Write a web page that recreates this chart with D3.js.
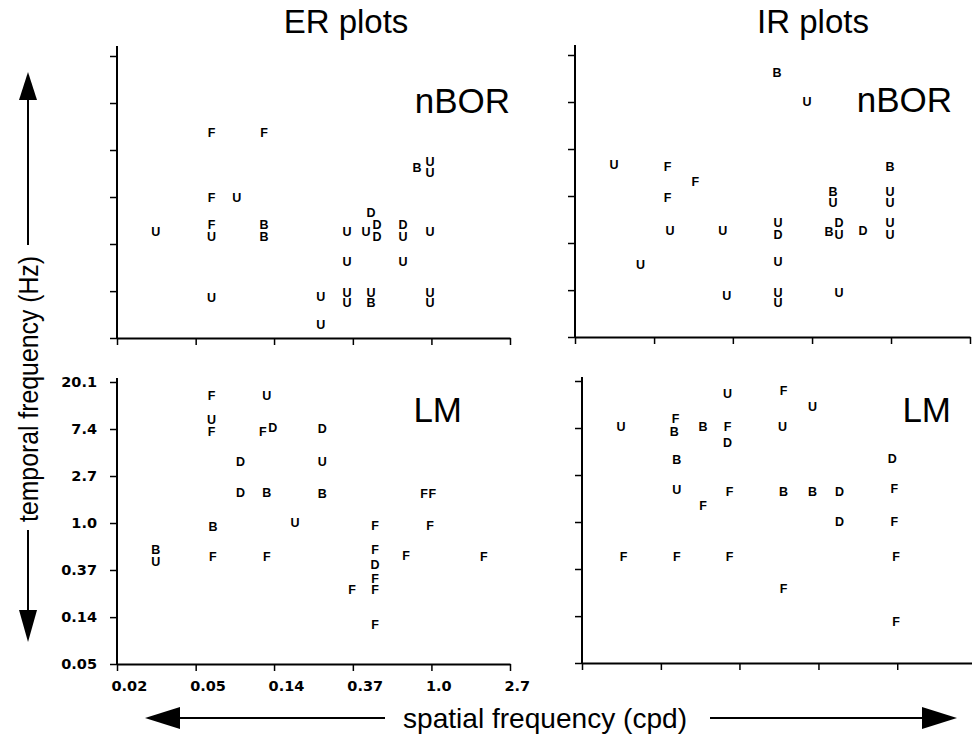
<!DOCTYPE html>
<html>
<head>
<meta charset="utf-8">
<script src="https://cdn.jsdelivr.net/npm/d3@7"></script>
<style>
  body { margin: 0; background: #fff; }
  svg { display: block; font-family: "Liberation Sans", Arial, sans-serif; }
  .axis path, .axis line { stroke: #000; }
  .axis .domain { stroke-width: 2; }
  .axis .tick line { stroke-width: 1.5; }
  .axis text { font-family: "DejaVu Sans", sans-serif; font-weight: bold; font-size: 14.5px; fill: #000; }
  .mark { font-weight: bold; font-size: 12.5px; }
</style>
</head>
<body>
<svg id="chart" width="972" height="746"></svg>
<script>
// tick values are e^k, labelled the way the figure rounds them
var sfTicks = [0.0183, 0.0498, 0.135, 0.368, 1.0, 2.718];
var sfTickLabels = ["0.02", "0.05", "0.14", "0.37", "1.0", "2.7"];
var tfTicks = [0.0498, 0.135, 0.368, 1.0, 2.718, 7.389, 20.09];
var tfTickLabels = ["0.05", "0.14", "0.37", "1.0", "2.7", "7.4", "20.1"];

// each cell: [cell type letter, spatial freq (cpd), temporal freq (Hz)]
var erNbor = [
  ["F",0.061,3.9], ["F",0.119,3.9], ["F",0.061,0.98], ["U",0.084,0.98],
  ["U",0.030,0.475], ["F",0.061,0.55], ["U",0.061,0.427], ["B",0.119,0.55], ["B",0.119,0.427],
  ["U",0.061,0.117], ["U",0.245,0.119], ["U",0.245,0.066],
  ["U",0.342,0.475], ["U",0.435,0.475], ["D",0.464,0.71], ["D",0.500,0.55], ["D",0.500,0.427],
  ["D",0.697,0.55], ["U",0.697,0.427], ["U",0.982,0.475],
  ["U",0.342,0.251], ["U",0.697,0.251],
  ["U",0.342,0.130], ["U",0.342,0.105], ["U",0.464,0.130], ["B",0.464,0.105],
  ["U",0.982,0.130], ["U",0.982,0.105],
  ["B",0.833,1.85], ["U",0.982,2.11], ["U",0.982,1.67]
];

var irNbor = [
  ["U",0.030,1.93], ["F",0.059,1.85], ["F",0.084,1.35], ["F",0.059,0.96],
  ["U",0.061,0.475], ["U",0.119,0.475], ["U",0.042,0.230], ["U",0.125,0.119],
  ["B",0.236,13.7], ["U",0.345,7.39],
  ["B",0.987,1.85], ["B",0.480,1.09], ["U",0.480,0.86], ["U",0.987,1.09], ["U",0.987,0.86],
  ["U",0.239,0.56], ["D",0.239,0.436], ["B",0.456,0.465], ["D",0.518,0.56], ["U",0.518,0.436],
  ["D",0.702,0.475], ["U",0.987,0.56], ["U",0.987,0.436],
  ["U",0.239,0.246], ["U",0.239,0.127], ["U",0.239,0.103], ["U",0.518,0.127]
];

var erLm = [
  ["F",0.061,14.9], ["U",0.123,14.9], ["U",0.061,8.95], ["F",0.061,6.93],
  ["F",0.117,6.93], ["D",0.133,7.55], ["D",0.088,3.66], ["D",0.088,1.89], ["B",0.123,1.89],
  ["B",0.062,0.92], ["B",0.030,0.563], ["U",0.030,0.436], ["F",0.062,0.486], ["F",0.123,0.486],
  ["D",0.249,7.4], ["U",0.249,3.66], ["B",0.249,1.85], ["U",0.176,1.0],
  ["F",0.488,0.94], ["F",0.488,0.563], ["D",0.488,0.409], ["F",0.488,0.304], ["F",0.488,0.240],
  ["F",0.364,0.240], ["F",0.488,0.114], ["F",0.724,0.496],
  ["F",0.910,1.85], ["F",1.01,1.85], ["F",0.982,0.94], ["F",1.95,0.486]
];

var irLm = [
  ["U",0.030,7.55], ["F",0.060,8.95], ["B",0.059,6.79], ["B",0.085,7.55],
  ["U",0.116,15.2], ["F",0.116,7.55], ["D",0.116,5.37], ["B",0.061,3.74], ["U",0.061,1.98],
  ["F",0.119,1.89], ["F",0.085,1.41], ["F",0.031,0.475], ["F",0.061,0.475], ["F",0.119,0.475],
  ["F",0.236,16.2], ["U",0.341,11.6], ["U",0.233,7.55], ["D",0.939,3.82],
  ["B",0.236,1.89], ["B",0.341,1.89], ["D",0.480,1.89], ["F",0.963,2.02],
  ["D",0.480,1.0], ["F",0.963,1.0], ["F",0.987,0.475], ["F",0.236,0.240], ["F",0.987,0.119]
];

var svg = d3.select("#chart");

function drawPanel(cfg, data) {
    var x = d3.scaleLog().domain([sfTicks[0], sfTicks[sfTicks.length-1]]).range([cfg.left, cfg.left + cfg.width]);
    var y = d3.scaleLog().domain([tfTicks[0], tfTicks[tfTicks.length-1]]).range([cfg.bottom, cfg.bottom - 282]);

    var xAxis = d3.axisBottom(x).tickValues(sfTicks).tickSizeInner(7).tickSizeOuter(0)
        .tickFormat(function(d, i) { return cfg.xLabels ? sfTickLabels[i] : ""; });
    var gx = svg.append("g").attr("class", "axis")
        .attr("transform", "translate(0," + cfg.bottom + ")")
        .call(xAxis);
    gx.selectAll("text").attr("text-anchor", "start").attr("dx", -6).attr("dy", "1.2em");

    var yAxis = d3.axisLeft(y).tickValues(tfTicks).tickSizeInner(7).tickSizeOuter(0)
        .tickFormat(function(d, i) { return cfg.yLabels ? tfTickLabels[i] : ""; });
    var gy = svg.append("g").attr("class", "axis")
        .attr("transform", "translate(" + cfg.left + ",0)")
        .call(yAxis);
    gy.selectAll("text").attr("dx", -10);
    // axis line runs a little past the top tick
    gy.select(".domain").attr("d", "M0," + cfg.bottom + "V" + cfg.top);

    svg.append("g").selectAll("text")
        .data(data)
        .enter().append("text")
        .attr("class", "mark")
        .attr("x", function(d) { return x(d[1]); })
        .attr("y", function(d) { return y(d[2]); })
        .attr("text-anchor", "middle")
        .attr("dominant-baseline", "central")
        .text(function(d) { return d[0]; });

    svg.append("text")
        .attr("x", cfg.tagX).attr("y", cfg.tagY)
        .attr("text-anchor", "end")
        .attr("font-size", 35)
        .text(cfg.tag);
}

drawPanel({left: 117, width: 393, bottom: 338, top: 46, tag: "nBOR", tagX: 510, tagY: 113}, erNbor);
drawPanel({left: 575, width: 395, bottom: 337, top: 45, tag: "nBOR", tagX: 952, tagY: 112}, irNbor);
drawPanel({left: 117, width: 393, bottom: 664, top: 378, tag: "LM", tagX: 462, tagY: 422, xLabels: true, yLabels: true}, erLm);
drawPanel({left: 582, width: 394, bottom: 663, top: 377, tag: "LM", tagX: 951, tagY: 422}, irLm);

// column titles
svg.append("text").attr("x", 346).attr("y", 33).attr("text-anchor", "middle")
    .attr("font-size", 33).text("ER plots");
svg.append("text").attr("x", 813).attr("y", 33).attr("text-anchor", "middle")
    .attr("font-size", 33).text("IR plots");

// axis titles with arrows (the figure's font is a condensed one)
svg.append("text")
    .attr("transform", "translate(29,389) rotate(-90)")
    .attr("text-anchor", "middle").attr("dominant-baseline", "central")
    .attr("font-size", 27)
    .attr("textLength", 266).attr("lengthAdjust", "spacingAndGlyphs")
    .text("temporal frequency (Hz)");
svg.append("text")
    .attr("x", 545).attr("y", 718)
    .attr("text-anchor", "middle").attr("dominant-baseline", "central")
    .attr("font-size", 28)
    .attr("textLength", 284).attr("lengthAdjust", "spacingAndGlyphs")
    .text("spatial frequency (cpd)");

var arrows = svg.append("g").attr("stroke", "#000").attr("stroke-width", 2);
arrows.append("line").attr("x1", 28).attr("y1", 245).attr("x2", 28).attr("y2", 95);
arrows.append("line").attr("x1", 28).attr("y1", 530).attr("x2", 28).attr("y2", 612);
arrows.append("line").attr("x1", 385).attr("y1", 718).attr("x2", 175).attr("y2", 718);
arrows.append("line").attr("x1", 710).attr("y1", 718).attr("x2", 925).attr("y2", 718);
var heads = svg.append("g").attr("fill", "#000");
heads.append("path").attr("d", "M28,72L19,100L37,100Z");
heads.append("path").attr("d", "M28,642L19,610L37,610Z");
heads.append("path").attr("d", "M145,718L180,707L180,729Z");
heads.append("path").attr("d", "M957,718L922,707L922,729Z");
</script>
</body>
</html>
